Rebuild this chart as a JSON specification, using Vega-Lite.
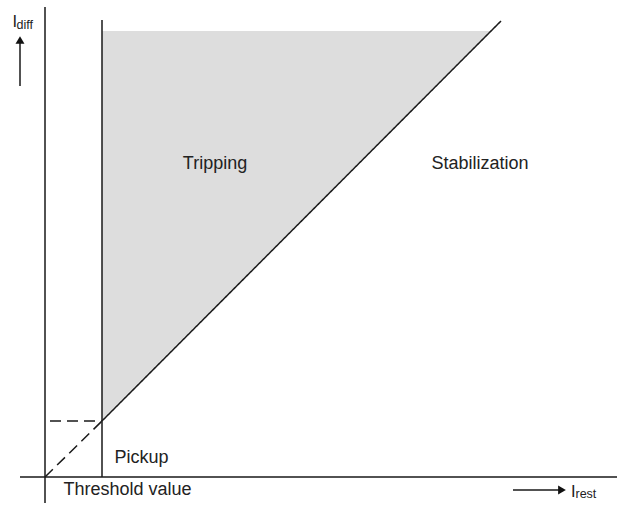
{
  "$schema": "https://vega.github.io/schema/vega-lite/v6.json",
  "width": 638,
  "height": 512,
  "padding": 0,
  "autosize": {"type": "fit", "contains": "padding"},
  "background": "white",
  "config": {"view": {"stroke": null}, "text": {"font": "Liberation Sans", "color": "#222222"}},
  "datasets": {
    "region": [
      {"x": 57, "y": 56, "y2": 446},
      {"x": 446, "y": 446, "y2": 446}
    ],
    "lines": [
      {"name": "y axis", "x": 0, "y": -26, "x2": 0, "y2": 470, "style": "solid"},
      {"name": "x axis", "x": -25, "y": 0, "x2": 572, "y2": 0, "style": "solid"},
      {"name": "pickup", "x": 57, "y": 0, "x2": 57, "y2": 457, "style": "solid"},
      {"name": "slope", "x": 57, "y": 56, "x2": 456, "y2": 456, "style": "solid"},
      {"name": "slope ext", "x": 0, "y": 0, "x2": 57, "y2": 56, "style": "dashed"},
      {"name": "threshold", "x": 5, "y": 56, "x2": 57, "y2": 56, "style": "dashed"},
      {"name": "arrow up", "x": -25, "y": 391, "x2": -25, "y2": 434, "style": "solid"},
      {"name": "arrow right", "x": 468, "y": -13, "x2": 514, "y2": -13, "style": "solid"}
    ],
    "heads": [
      {"x": -25, "y": 437, "dir": "up"},
      {"x": 517, "y": -13, "dir": "right"}
    ],
    "labels": [
      {"x": 170, "y": 308, "label": "Tripping"},
      {"x": 435, "y": 308, "label": "Stabilization"},
      {"x": 96.5, "y": 14, "label": "Pickup"},
      {"x": 82.5, "y": -18, "label": "Threshold value"}
    ],
    "symbols": [
      {"x": -32.5, "y": 450, "label": "I"},
      {"x": 526, "y": -20, "label": "I"}
    ],
    "subs": [
      {"x": -28.5, "y": 448, "label": "diff"},
      {"x": 530.5, "y": -21, "label": "rest"}
    ]
  },
  "encoding": {
    "x": {"field": "x", "type": "quantitative", "scale": {"domain": [-45, 593], "nice": false, "zero": false}, "axis": null},
    "y": {"field": "y", "type": "quantitative", "scale": {"domain": [-35, 477], "nice": false, "zero": false}, "axis": null}
  },
  "layer": [
    {
      "data": {"name": "region"},
      "mark": {"type": "area", "color": "#dddddd", "opacity": 1},
      "encoding": {"y2": {"field": "y2"}}
    },
    {
      "data": {"name": "lines"},
      "mark": {"type": "rule", "color": "#1a1a1a", "strokeWidth": 1.5},
      "encoding": {
        "x2": {"field": "x2"},
        "y2": {"field": "y2"},
        "strokeDash": {"field": "style", "type": "nominal", "scale": {"domain": ["solid", "dashed"], "range": [[1, 0], [11, 6]]}, "legend": null}
      }
    },
    {
      "data": {"name": "heads"},
      "mark": {"type": "point", "filled": true, "color": "#111111", "opacity": 1, "size": 80},
      "encoding": {
        "shape": {"field": "dir", "type": "nominal", "scale": {"domain": ["up", "right"], "range": ["triangle-up", "triangle-right"]}, "legend": null}
      }
    },
    {
      "data": {"name": "labels"},
      "mark": {"type": "text", "fontSize": 18, "align": "center", "baseline": "alphabetic"},
      "encoding": {"text": {"field": "label"}}
    },
    {
      "data": {"name": "symbols"},
      "mark": {"type": "text", "fontSize": 16.5, "align": "left", "baseline": "alphabetic"},
      "encoding": {"text": {"field": "label"}}
    },
    {
      "data": {"name": "subs"},
      "mark": {"type": "text", "fontSize": 12.5, "align": "left", "baseline": "alphabetic"},
      "encoding": {"text": {"field": "label"}}
    }
  ]
}
